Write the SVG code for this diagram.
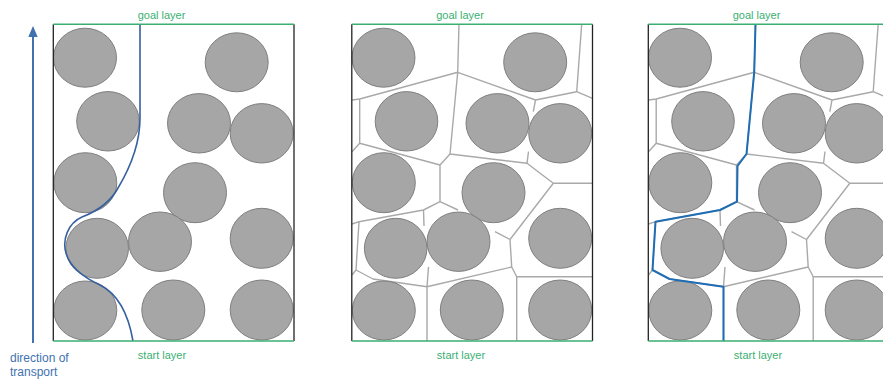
<svg xmlns="http://www.w3.org/2000/svg" width="883" height="383" viewBox="0 0 883 383">
<style>
.bg{fill:#ffffff}
.p{fill:#a6a6a6;stroke:#7f7f7f;stroke-width:1}
.side{stroke:#222;stroke-width:1.3}
.edge{stroke:#3aaf72;stroke-width:1.6}
.vor{fill:none;stroke:#a9a9a9;stroke-width:1.4;stroke-linejoin:round}
.lbl{font-family:"Liberation Sans",Arial,sans-serif;font-size:11px;fill:#3aaf72;text-anchor:middle}
.dir{font-family:"Liberation Sans",Arial,sans-serif;font-size:12px;fill:#3f72af}
.path1{fill:none;stroke:#36609e;stroke-width:1.6}
.path3{fill:none;stroke:#1f6db3;stroke-width:2;stroke-linejoin:round}
</style>
<defs>
<g id="particles">
<ellipse class="p" cx="85" cy="57.7" rx="31.5" ry="29.5"/>
<ellipse class="p" cx="236.7" cy="62.3" rx="31.5" ry="29.5"/>
<ellipse class="p" cx="108" cy="121.3" rx="31.3" ry="29.7"/>
<ellipse class="p" cx="199" cy="123.3" rx="31.5" ry="29.7"/>
<ellipse class="p" cx="261.7" cy="133.3" rx="31.5" ry="29.7"/>
<ellipse class="p" cx="85.3" cy="182.7" rx="31.5" ry="30"/>
<ellipse class="p" cx="195" cy="192.7" rx="31.5" ry="30"/>
<ellipse class="p" cx="97.2" cy="248.3" rx="31.3" ry="30"/>
<ellipse class="p" cx="160" cy="241.7" rx="31.5" ry="29.7"/>
<ellipse class="p" cx="261.7" cy="238.3" rx="31.5" ry="30"/>
<ellipse class="p" cx="85.3" cy="310.5" rx="31.5" ry="29.5"/>
<ellipse class="p" cx="173.3" cy="310" rx="31.5" ry="30"/>
<ellipse class="p" cx="261.7" cy="310" rx="31.5" ry="30"/>
</g>
<g id="voronoi">
<path class="vor" d="M160.5,24.3 L159.2,72.3 L61.2,99 L53.5,100 M61.2,99 L61.2,143.3 L53.5,151.7 M61.2,143.3 L141.5,165 L151.5,154 L159.2,72.3 M151.5,154 L228.5,163.3 L230,151.5 M141.5,165 L141.5,201.7 L159.5,210 M141.5,201.7 L125,210 L125.5,226 M125,210 L60.5,221.7 L53.5,224 M60.5,221.7 L57.5,270 L53.5,275 M57.5,270 L74.5,279 L128.5,286.7 L130,267 M128.5,286.7 L128.5,341 M128.5,286.7 L213.2,267 L211.5,239.5 L196.5,231.7 M211.5,239.5 L254.8,183.3 L228.5,163.3 M254.8,183.3 L294,183.3 M213.2,267 L218.2,276.7 L218.2,341 M218.2,276.7 L294,276.7 M159.2,72.3 L237,100 L234.8,111.7 M237,100 L278.2,91.7 L283.2,24.3 M278.2,91.7 L294,98.3"/>
</g>
</defs>

<g id="arrow">
<line x1="33" y1="343" x2="33" y2="35" stroke="#3f72af" stroke-width="2"/>
<polygon points="33,26 28.3,37 37.7,37" fill="#3f72af"/>
<text class="dir" x="10" y="362">direction of</text>
<text class="dir" x="10" y="375.5">transport</text>
</g>

<g id="panel1">
<rect class="bg" x="53.3" y="24.3" width="240.7" height="316.7"/>
<use href="#particles"/>
<path class="path1" d="M140,24.3 L140,118 C140,145 130,168 118,188 C110,203 95,212 82,217 C68,223 62,240 66,253 C70,268 85,278 100,285 C116,293 128,312 133,341"/>
<line class="side" x1="53.3" y1="24.3" x2="53.3" y2="341"/>
<line class="side" x1="294" y1="24.3" x2="294" y2="341" stroke="#555"/>
<line class="edge" x1="53.3" y1="24.3" x2="294" y2="24.3"/>
<line class="edge" x1="53.3" y1="341" x2="294" y2="341"/>
<text class="lbl" x="161.5" y="18.5">goal layer</text>
<text class="lbl" x="162" y="358.5">start layer</text>
</g>

<g id="panel2" transform="translate(298.5,0)">
<rect class="bg" x="53.3" y="24.3" width="240.7" height="316.7"/>
<use href="#voronoi"/>
<use href="#particles"/>
<line class="side" x1="53.3" y1="24.3" x2="53.3" y2="341"/>
<line class="side" x1="294" y1="24.3" x2="294" y2="341" stroke="#555"/>
<line class="edge" x1="53.3" y1="24.3" x2="294" y2="24.3"/>
<line class="edge" x1="53.3" y1="341" x2="294" y2="341"/>
<text class="lbl" x="161.5" y="18.5">goal layer</text>
<text class="lbl" x="162.5" y="358.5">start layer</text>
</g>

<g id="panel3" transform="translate(595,0)">
<rect class="bg" x="53.3" y="24.3" width="240.7" height="316.7"/>
<use href="#voronoi"/>
<use href="#particles"/>
<path class="path3" d="M160.5,24.3 L159.2,72.3 L151.5,154 L142.5,166 L142,201.7 L125,210 L60.5,221.7 L57.5,270 L74.5,279 L128.5,286.7 L128.5,341"/>
<line class="side" x1="53.3" y1="24.3" x2="53.3" y2="341" stroke-width="2"/>
<line class="edge" x1="53.3" y1="24.3" x2="294" y2="24.3"/>
<line class="edge" x1="53.3" y1="341" x2="294" y2="341"/>
<text class="lbl" x="161.5" y="18.5">goal layer</text>
<text class="lbl" x="163" y="358.5">start layer</text>
</g>
</svg>
